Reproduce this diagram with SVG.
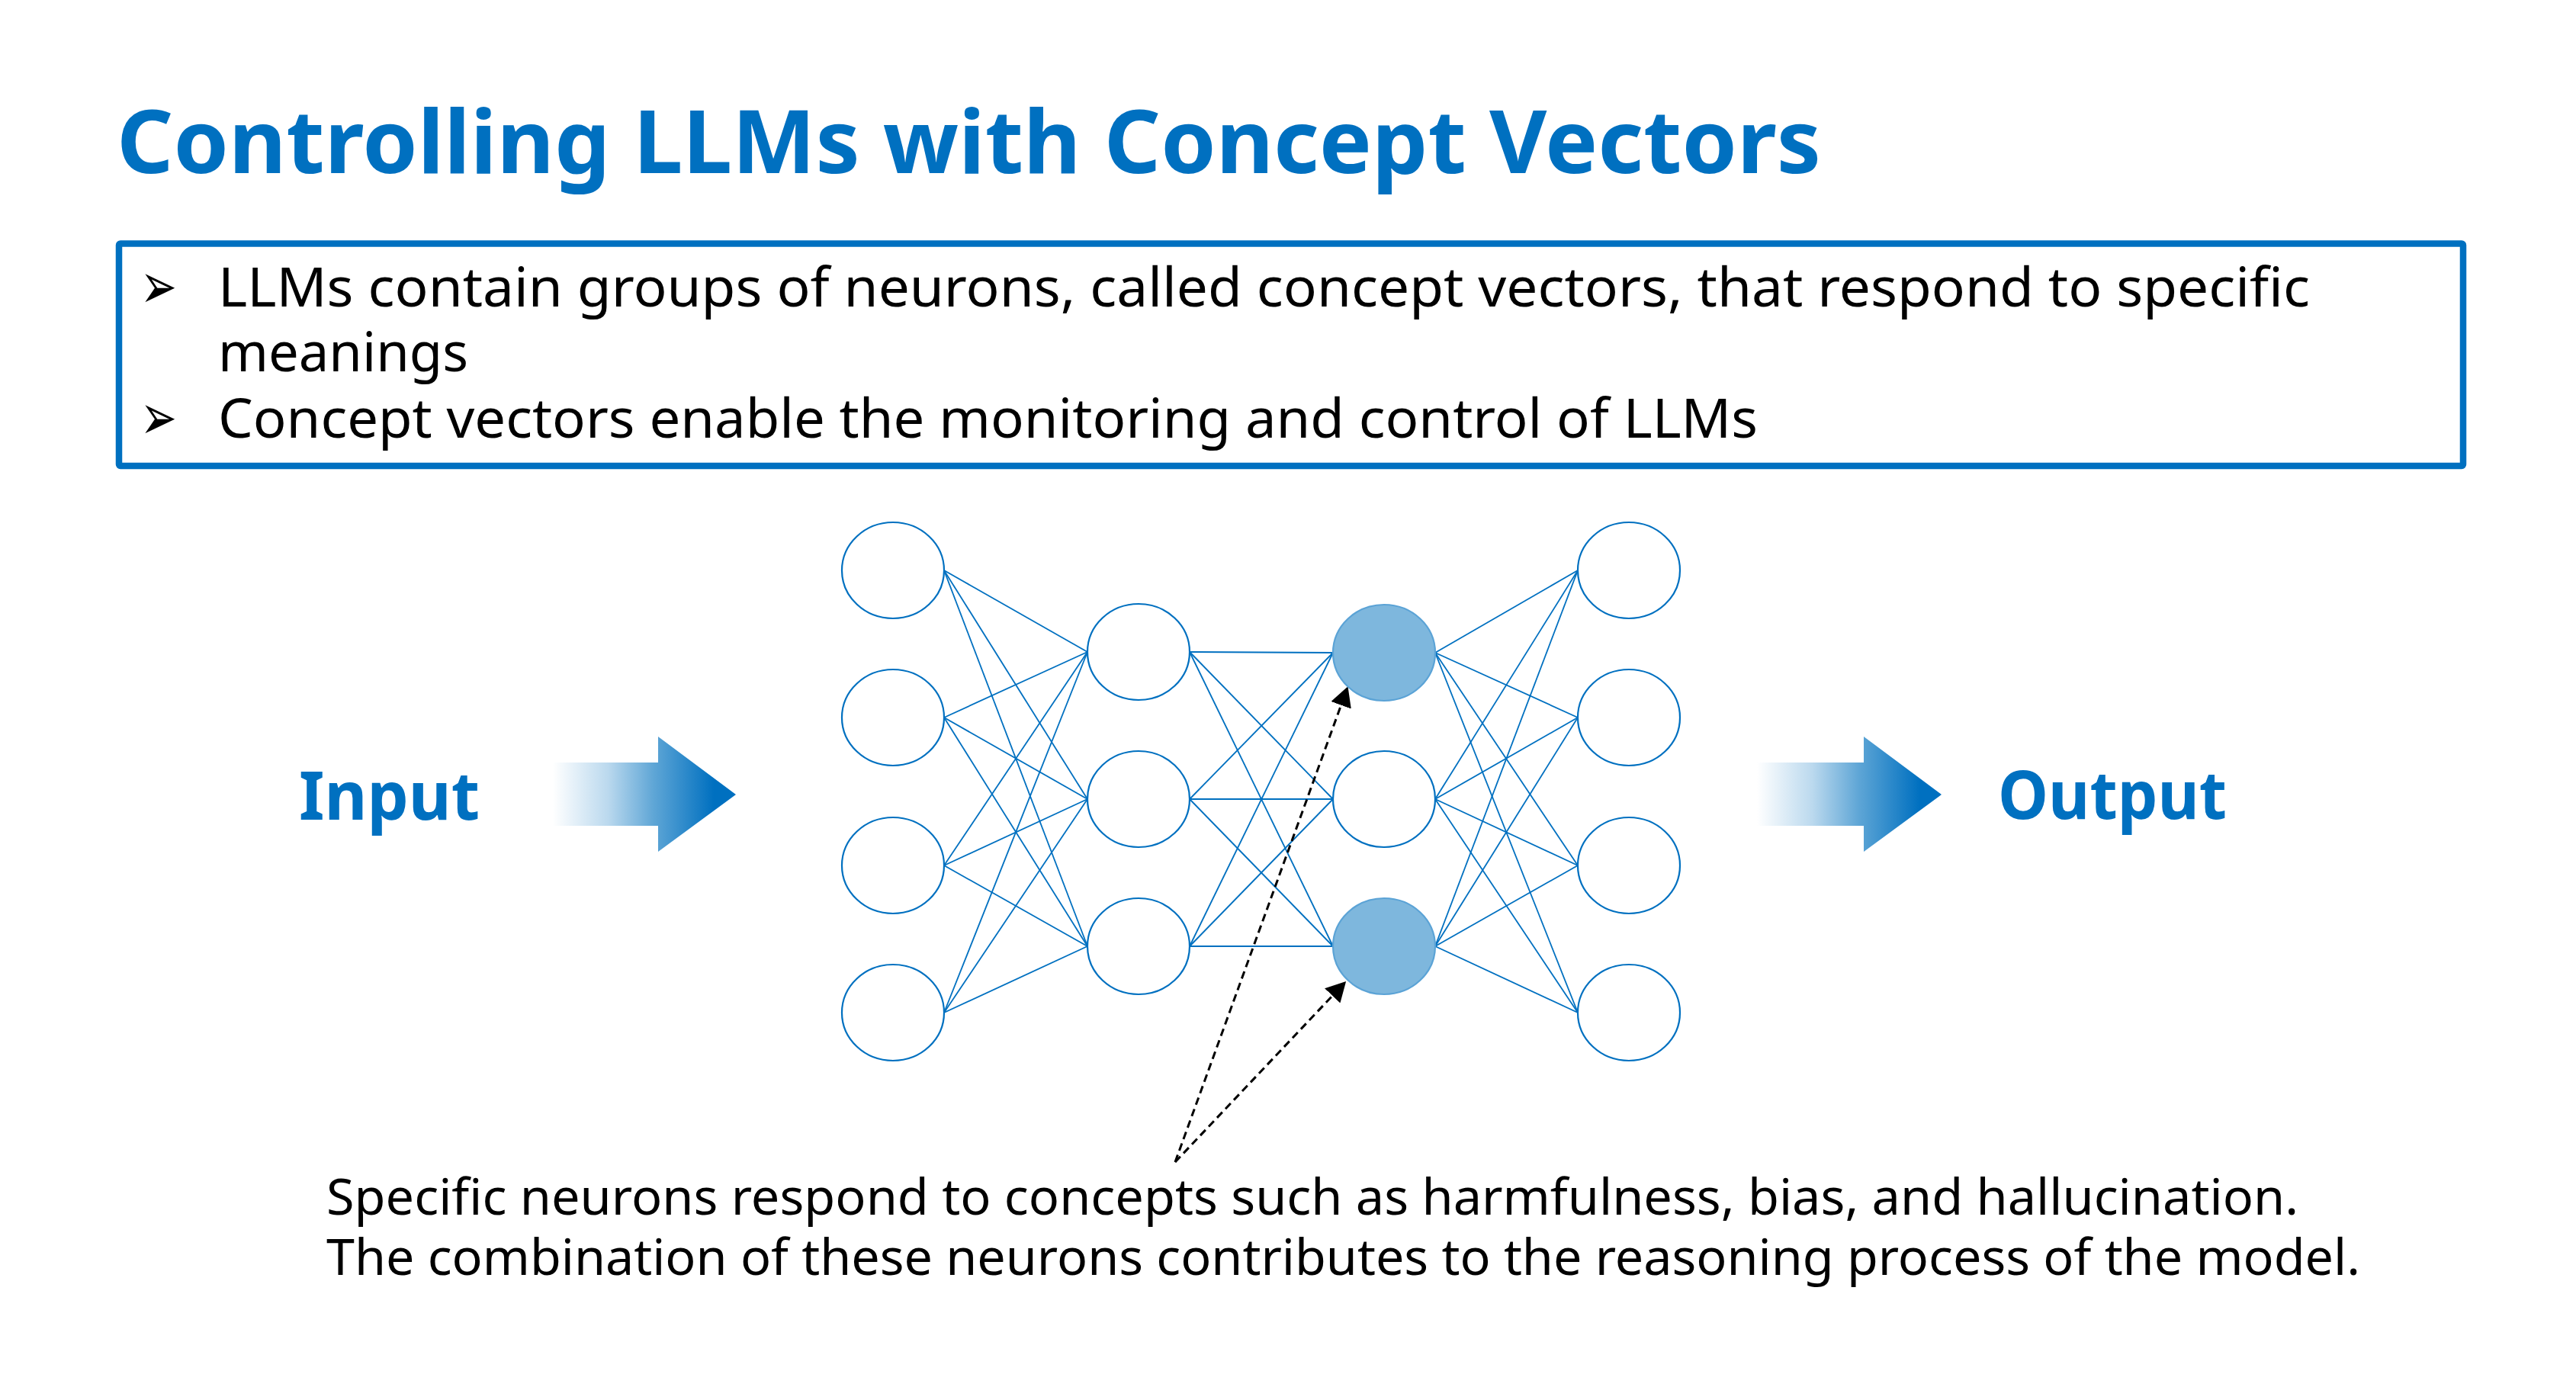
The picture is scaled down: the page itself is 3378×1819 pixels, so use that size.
<svg xmlns="http://www.w3.org/2000/svg" width="3378" height="1819" viewBox="0 0 3378 1819">
<style>
.title{font-family:"Noto Sans","DejaVu Sans",sans-serif;font-weight:bold;fill:#0070C0}
.body{font-family:"Noto Sans","DejaVu Sans",sans-serif;fill:#000}
.bullet{font-family:"DejaVu Sans",sans-serif;fill:#000}
.io{font-family:"Noto Sans","DejaVu Sans",sans-serif;font-weight:bold;fill:#0070C0}
.n{fill:#fff;stroke:#0070C0;stroke-width:2.2}
.nf{fill:#7EB7DD;stroke:#5BA3D6;stroke-width:2.2}
.e{stroke:#0070C0;stroke-width:1.8;fill:none}
.d{stroke:#000;stroke-width:3;stroke-dasharray:10 6;fill:none}
</style>
<defs>
<linearGradient id="g" x1="0" y1="0" x2="1" y2="0">
<stop offset="0" stop-color="#ffffff"/>
<stop offset="0.3" stop-color="#BBD9EE"/>
<stop offset="0.55" stop-color="#5FA6D6"/>
<stop offset="0.88" stop-color="#0070C0"/>
<stop offset="1" stop-color="#0070C0"/>
</linearGradient>
<marker id="ah" markerUnits="userSpaceOnUse" markerWidth="28" markerHeight="28" refX="4" refY="14" orient="auto">
<path d="M0,0 L26,14 L0,28 z" fill="#000"/>
</marker>
</defs>
<rect width="3378" height="1819" fill="#fff"/>

<g id="title"><text class="title" x="153" y="227" font-size="115" textLength="2235" lengthAdjust="spacingAndGlyphs">Controlling LLMs with Concept Vectors</text></g>

<g id="bullets">
<rect x="156" y="319.5" width="3074" height="291.5" rx="2" fill="none" stroke="#0070C0" stroke-width="8.5"/>
<text class="bullet" x="184" y="404" font-size="84" textLength="48" lengthAdjust="spacingAndGlyphs">➢</text>
<text class="body" x="286" y="402" font-size="71" textLength="2743" lengthAdjust="spacingAndGlyphs">LLMs contain groups of neurons, called concept vectors, that respond to specific</text>
<text class="body" x="286" y="487" font-size="71" textLength="328" lengthAdjust="spacingAndGlyphs">meanings</text>
<text class="bullet" x="184" y="576" font-size="84" textLength="48" lengthAdjust="spacingAndGlyphs">➢</text>
<text class="body" x="286" y="574" font-size="71" textLength="2019" lengthAdjust="spacingAndGlyphs">Concept vectors enable the monitoring and control of LLMs</text>
</g>

<g id="input">
<text class="io" x="392" y="1075" font-size="88" textLength="237" lengthAdjust="spacingAndGlyphs">Input</text>
<polygon points="725,1000 863,1000 863,966 965,1042 863,1117 863,1083 725,1083" fill="url(#g)"/>
</g>
<g id="output">
<polygon points="2304,1000 2444,1000 2444,966 2546,1042 2444,1117 2444,1083 2304,1083" fill="url(#g)"/>
<text class="io" x="2620" y="1074" font-size="88" textLength="300" lengthAdjust="spacingAndGlyphs">Output</text>
</g>

<g id="connectors">
<line class="e" x1="1238" y1="748" x2="1426" y2="855"/>
<line class="e" x1="1238" y1="748" x2="1426" y2="1048"/>
<line class="e" x1="1238" y1="748" x2="1426" y2="1241"/>
<line class="e" x1="1238" y1="941" x2="1426" y2="855"/>
<line class="e" x1="1238" y1="941" x2="1426" y2="1048"/>
<line class="e" x1="1238" y1="941" x2="1426" y2="1241"/>
<line class="e" x1="1238" y1="1135" x2="1426" y2="855"/>
<line class="e" x1="1238" y1="1135" x2="1426" y2="1048"/>
<line class="e" x1="1238" y1="1135" x2="1426" y2="1241"/>
<line class="e" x1="1238" y1="1328" x2="1426" y2="855"/>
<line class="e" x1="1238" y1="1328" x2="1426" y2="1048"/>
<line class="e" x1="1238" y1="1328" x2="1426" y2="1241"/>
<line class="e" x1="1560" y1="855" x2="1748" y2="856"/>
<line class="e" x1="1560" y1="855" x2="1748" y2="1048"/>
<line class="e" x1="1560" y1="855" x2="1748" y2="1241"/>
<line class="e" x1="1560" y1="1048" x2="1748" y2="856"/>
<line class="e" x1="1560" y1="1048" x2="1748" y2="1048"/>
<line class="e" x1="1560" y1="1048" x2="1748" y2="1241"/>
<line class="e" x1="1560" y1="1241" x2="1748" y2="856"/>
<line class="e" x1="1560" y1="1241" x2="1748" y2="1048"/>
<line class="e" x1="1560" y1="1241" x2="1748" y2="1241"/>
<line class="e" x1="1882" y1="856" x2="2069" y2="748"/>
<line class="e" x1="1882" y1="856" x2="2069" y2="941"/>
<line class="e" x1="1882" y1="856" x2="2069" y2="1135"/>
<line class="e" x1="1882" y1="856" x2="2069" y2="1328"/>
<line class="e" x1="1882" y1="1048" x2="2069" y2="748"/>
<line class="e" x1="1882" y1="1048" x2="2069" y2="941"/>
<line class="e" x1="1882" y1="1048" x2="2069" y2="1135"/>
<line class="e" x1="1882" y1="1048" x2="2069" y2="1328"/>
<line class="e" x1="1882" y1="1241" x2="2069" y2="748"/>
<line class="e" x1="1882" y1="1241" x2="2069" y2="941"/>
<line class="e" x1="1882" y1="1241" x2="2069" y2="1135"/>
<line class="e" x1="1882" y1="1241" x2="2069" y2="1328"/>
<line class="d" x1="1541" y1="1524" x2="1760" y2="921" marker-end="url(#ah)"/>
<line class="d" x1="1541" y1="1524" x2="1750" y2="1303" marker-end="url(#ah)"/>
</g>

<g id="layer1">
<ellipse id="n1a" class="n" cx="1171" cy="748" rx="67" ry="63"/>
<ellipse id="n1b" class="n" cx="1171" cy="941" rx="67" ry="63"/>
<ellipse id="n1c" class="n" cx="1171" cy="1135" rx="67" ry="63"/>
<ellipse id="n1d" class="n" cx="1171" cy="1328" rx="67" ry="63"/>
</g>
<g id="layer2">
<ellipse id="n2a" class="n" cx="1493" cy="855" rx="67" ry="63"/>
<ellipse id="n2b" class="n" cx="1493" cy="1048" rx="67" ry="63"/>
<ellipse id="n2c" class="n" cx="1493" cy="1241" rx="67" ry="63"/>
</g>
<g id="layer3">
<ellipse id="n3a" class="nf" cx="1815" cy="856" rx="67" ry="63"/>
<ellipse id="n3b" class="n" cx="1815" cy="1048" rx="67" ry="63"/>
<ellipse id="n3c" class="nf" cx="1815" cy="1241" rx="67" ry="63"/>
</g>
<g id="layer4">
<ellipse id="n4a" class="n" cx="2136" cy="748" rx="67" ry="63"/>
<ellipse id="n4b" class="n" cx="2136" cy="941" rx="67" ry="63"/>
<ellipse id="n4c" class="n" cx="2136" cy="1135" rx="67" ry="63"/>
<ellipse id="n4d" class="n" cx="2136" cy="1328" rx="67" ry="63"/>
</g>

<g id="caption">
<text class="body" x="428" y="1593" font-size="65" textLength="2586" lengthAdjust="spacingAndGlyphs">Specific neurons respond to concepts such as harmfulness, bias, and hallucination.</text>
<text class="body" x="428" y="1672" font-size="65" textLength="2667" lengthAdjust="spacingAndGlyphs">The combination of these neurons contributes to the reasoning process of the model.</text>
</g>
</svg>
